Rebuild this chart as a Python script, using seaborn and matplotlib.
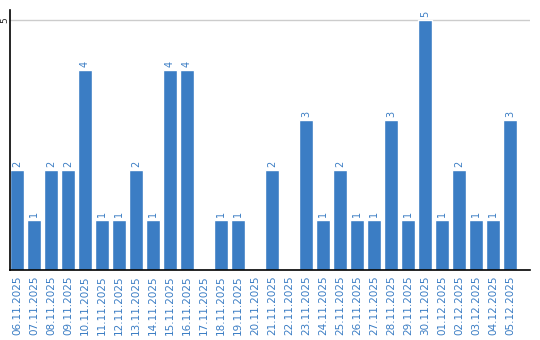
import matplotlib
matplotlib.use("Agg")
import matplotlib.pyplot as plt
import seaborn as sns
import pandas as pd

dates = ["06.11.2025", "07.11.2025", "08.11.2025", "09.11.2025", "10.11.2025",
         "11.11.2025", "12.11.2025", "13.11.2025", "14.11.2025", "15.11.2025",
         "16.11.2025", "17.11.2025", "18.11.2025", "19.11.2025", "20.11.2025",
         "21.11.2025", "22.11.2025", "23.11.2025", "24.11.2025", "25.11.2025",
         "26.11.2025", "27.11.2025", "28.11.2025", "29.11.2025", "30.11.2025",
         "01.12.2025", "02.12.2025", "03.12.2025", "04.12.2025", "05.12.2025"]
values = [2, 1, 2, 2, 4, 1, 1, 2, 1, 4, 4, 0, 1, 1, 0, 2, 0, 3, 1, 2, 1, 1, 3, 1, 5, 1, 2, 1, 1, 3]

BLUE = "#3b7dc4"
sns.set_style("white")
plt.rcParams['font.family'] = ['DejaVu Sans']

df = pd.DataFrame({"date": dates, "value": values})
fig = plt.figure(figsize=(5.4, 3.4), dpi=100)
ax = fig.add_axes([10/540, 70/340, 520/540, 260/340])
sns.barplot(data=df, x="date", y="value", color=BLUE, saturation=1, width=0.82, ax=ax)
ax.set_xlim(-0.41, 30.18)
ax.set_ylim(0, 5.2)
ax.set_yticks([5])
ax.set_yticklabels(["5"], rotation=90, va="center", fontsize=6.5)
ax.yaxis.grid(True, color="#cccccc", linewidth=1)
ax.set_axisbelow(True)
ax.set_xlabel("")
ax.set_ylabel("")
ax.tick_params(axis="x", length=0, pad=4, labelsize=7.5, labelcolor=BLUE)
ax.tick_params(axis="y", length=0, pad=0.5)
for lab in ax.get_xticklabels():
    lab.set_rotation(90)
for s in ["top", "right"]:
    ax.spines[s].set_visible(False)
for s in ["left", "bottom"]:
    ax.spines[s].set_color("black")
    ax.spines[s].set_linewidth(1.2)
for i, v in enumerate(values):
    if v > 0:
        ax.annotate(str(v), (i, v), xytext=(0, 2), textcoords="offset points",
                    rotation=90, ha="center", va="bottom", fontsize=7, color=BLUE)
fig.savefig("out.png", dpi=100)
